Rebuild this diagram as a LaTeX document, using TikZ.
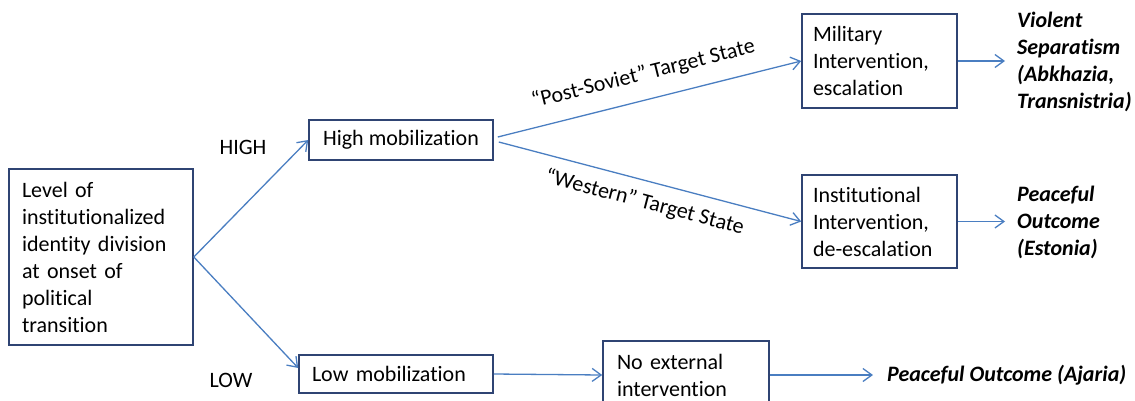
\documentclass[tikz,border=0pt]{standalone}
\usepackage{fontspec}
\setmainfont{Carlito}[Ligatures={TeX,NoCommon}]
\usetikzlibrary{arrows.meta}
\definecolor{boxc}{RGB}{47,68,115}
\definecolor{arrc}{RGB}{74,126,193}
\begin{document}
\begin{tikzpicture}[x=1pt,y=-1pt,
  every node/.style={font=\fontsize{22}{27}\selectfont, text=black},
  box/.style={draw=boxc, line width=1.6pt, inner ysep=2pt},
  conn/.style={draw=arrc, line width=1.3pt, -{Straight Barb[length=9pt,width=13pt,line width=1.3pt]}},
  outc/.style={font=\fontsize{22}{27}\selectfont\bfseries\itshape, inner sep=0pt, anchor=west, align=left},
  lbl/.style={sloped, inner sep=3pt}
]
\clip (0,0) rectangle (1135,400);
\node[box, minimum width=184pt, minimum height=176pt, inner xsep=13pt, text width=158pt, align=left] (lv) at (101,257) {Level of\\institutionalized\\identity division\\at onset of\\political\\transition};
\node[box, minimum width=184pt, minimum height=40pt] (hm) at (401,140) {High mobilization};
\node[box, minimum width=194pt, minimum height=38pt, inner xsep=13pt, text width=168pt, align=left] (lm) at (396,374) {Low mobilization};
\node[box, minimum width=155pt, minimum height=94pt, inner xsep=11pt, text width=133pt, align=left] (mil) at (879.5,61) {Military\\Intervention,\\escalation};
\node[box, minimum width=155pt, minimum height=93pt, inner xsep=11pt, text width=133pt, align=left] (inst) at (879.5,221.5) {Institutional\\Intervention,\\de-escalation};
\node[box, minimum width=166pt, minimum height=68pt, inner xsep=14pt, text width=138pt, align=left] (ne) at (686,375) {No external\\intervention};
\node[outc] (vs) at (1017,62) {Violent\\Separatism\\(Abkhazia,\\Transnistria)};
\node[outc] (pe) at (1017,222) {Peaceful\\Outcome\\(Estonia)};
\node[outc] (pa) at (887,375) {Peaceful Outcome (Ajaria)};
\node (high) at (243,147) {HIGH};
\node (low) at (231,380) {LOW};

\draw[conn] (lv.east) -- (hm.west);
\draw[conn] (lv.east) -- ([yshift=6pt]lm.west);
\draw[conn] ([xshift=4pt,yshift=3pt]hm.east) -- node[lbl, above=12pt] {“Post-Soviet” Target State} (mil.west);
\draw[conn] ([xshift=5pt,yshift=-2pt]hm.east) -- node[lbl, below=8pt] {“Western” Target State} (inst.west);
\draw[conn, shorten >=12pt] (mil.east) -- (mil.east -| vs.west);
\draw[conn, shorten >=12pt] (inst.east) -- (inst.east -| pe.west);
\draw[conn] (lm.east) -- (ne.west);
\draw[conn, shorten >=14pt] (ne.east) -- (ne.east -| pa.west);
\end{tikzpicture}
\end{document}
